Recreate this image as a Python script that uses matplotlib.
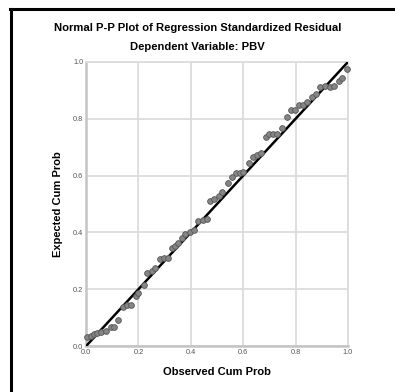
import matplotlib
matplotlib.use("Agg")
import matplotlib.pyplot as plt
from matplotlib.lines import Line2D

plt.rcParams['font.family'] = ['Liberation Sans', 'DejaVu Sans']

# observed vs expected cumulative probabilities
observed = [0.005, 0.018, 0.031, 0.042, 0.057, 0.076, 0.095, 0.108, 0.123, 0.140,
            0.155, 0.172, 0.190, 0.200, 0.221, 0.234, 0.251, 0.263, 0.282, 0.298,
            0.314, 0.327, 0.340, 0.352, 0.365, 0.378, 0.397, 0.412, 0.429, 0.445,
            0.461, 0.475, 0.490, 0.506, 0.521, 0.542, 0.556, 0.571, 0.586, 0.599,
            0.622, 0.639, 0.654, 0.668, 0.687, 0.700, 0.715, 0.730, 0.750, 0.766,
            0.782, 0.798, 0.813, 0.829, 0.845, 0.861, 0.876, 0.895, 0.912, 0.931,
            0.947, 0.964, 0.978, 0.996]
expected = [0.031, 0.035, 0.042, 0.046, 0.050, 0.053, 0.068, 0.068, 0.092, 0.136,
            0.144, 0.145, 0.176, 0.188, 0.215, 0.257, 0.266, 0.274, 0.305, 0.309,
            0.309, 0.344, 0.352, 0.363, 0.379, 0.394, 0.402, 0.408, 0.440, 0.445,
            0.446, 0.511, 0.516, 0.528, 0.542, 0.573, 0.595, 0.609, 0.610, 0.611,
            0.643, 0.664, 0.671, 0.679, 0.736, 0.746, 0.748, 0.746, 0.769, 0.808,
            0.831, 0.831, 0.847, 0.850, 0.859, 0.875, 0.887, 0.913, 0.914, 0.913,
            0.914, 0.933, 0.945, 0.975]
ticks = [0.0, 0.2, 0.4, 0.6, 0.8, 1.0]
tick_labels = ["0.0", "0.2", "0.4", "0.6", "0.8", "1.0"]

fig = plt.figure(figsize=(3.95, 3.92), dpi=100)
ax = fig.add_axes([0.2177, 0.117, 0.6633, 0.725])

ax.set_xlim(0, 1)
ax.set_ylim(0, 1)
ax.set_xticks(ticks)
ax.set_yticks(ticks)
ax.set_xticklabels(tick_labels)
ax.set_yticklabels(tick_labels)
ax.tick_params(length=0, labelsize=5.3, labelcolor='#555555', pad=2)
ax.grid(True, color='#dcdcdc', linewidth=1.3)
ax.set_axisbelow(True)
for side in ['top', 'right']:
    ax.spines[side].set_color('#dcdcdc')
    ax.spines[side].set_linewidth(1.3)
for side in ['left', 'bottom']:
    ax.spines[side].set_color('#c4c4c4')
    ax.spines[side].set_linewidth(1.8)

ax.plot([0, 1], [0, 1], color='black', linewidth=1.8, zorder=3)
ax.scatter(observed, expected, s=17, color='#858585', edgecolors='#555555',
           linewidths=0.6, zorder=4, clip_on=False)

ax.set_xlabel("Observed Cum Prob", fontsize=8, fontweight='bold', labelpad=8)
ax.set_ylabel("Expected Cum Prob", fontsize=8, fontweight='bold', labelpad=7)

fig.text(0.5, 0.928, "Normal P-P Plot of Regression Standardized Residual",
         ha='center', va='center', fontsize=8.1, fontweight='bold')
fig.text(0.5, 0.88, "Dependent Variable: PBV",
         ha='center', va='center', fontsize=8.1, fontweight='bold')

# outer frame (left and top edges)
fig.add_artist(Line2D([11 / 395, 11 / 395], [0, 1 - 9 / 392],
                      transform=fig.transFigure, color='black', linewidth=2.2))
fig.add_artist(Line2D([10 / 395, 1], [1 - 9 / 392, 1 - 9 / 392],
                      transform=fig.transFigure, color='black', linewidth=2.2))

fig.savefig("out.png", dpi=100)
